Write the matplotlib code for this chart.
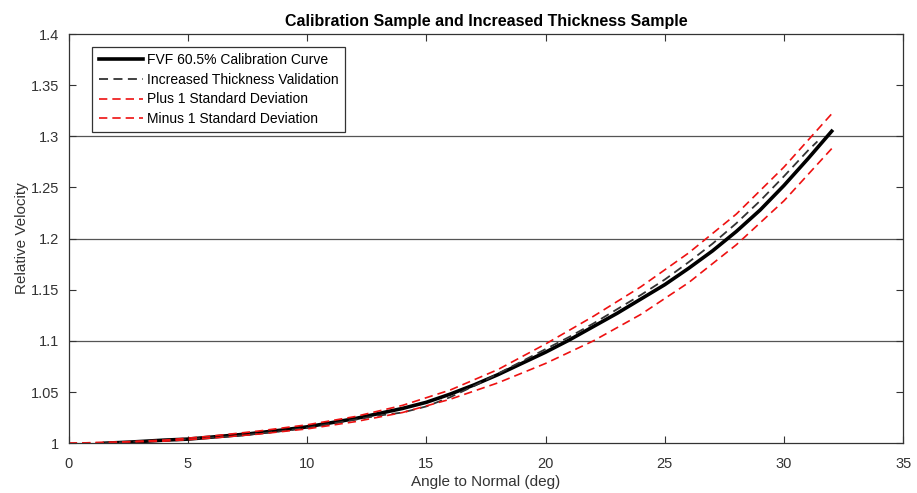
from matplotlib import pyplot as plt
import numpy as np

plt.rcParams['font.family'] = ['Liberation Sans', 'DejaVu Sans']

# calibration curve (solid black)
x_cal = [1.5, 2.5, 4, 5, 6, 7.5, 9, 10, 11, 12, 13, 14, 15, 16, 17, 18, 19, 20,
         21, 22, 23, 24, 25, 26, 27, 28, 29, 30, 31, 32]
y_cal = [1.000, 1.001, 1.003, 1.004, 1.006, 1.009, 1.013, 1.016, 1.020, 1.024,
         1.029, 1.034, 1.040, 1.048, 1.057, 1.067, 1.078, 1.089, 1.101, 1.114,
         1.127, 1.141, 1.155, 1.171, 1.188, 1.207, 1.228, 1.252, 1.278, 1.305]

# increased thickness validation (dashed dark gray)
x_thk = [1.5, 3, 5, 7, 9, 10, 11, 12, 13, 14, 15, 16, 17, 18, 19, 20, 21, 22,
         23, 24, 25, 26, 27, 28, 29, 30, 31, 31.4]
y_thk = [1.000, 1.002, 1.004, 1.007, 1.012, 1.015, 1.019, 1.023, 1.027, 1.030,
         1.036, 1.045, 1.056, 1.068, 1.080, 1.092, 1.104, 1.117, 1.131, 1.145,
         1.160, 1.177, 1.195, 1.215, 1.237, 1.261, 1.286, 1.295]

# +/- 1 standard deviation (dashed red)
x_sd = [0, 2, 4, 6, 8, 10, 12, 14, 16, 18, 20, 22, 24, 26, 28, 30, 32]
y_plus = [1.000, 1.001, 1.003, 1.007, 1.012, 1.018, 1.026, 1.037, 1.052, 1.072,
          1.097, 1.124, 1.153, 1.186, 1.224, 1.270, 1.322]
y_minus = [1.000, 1.001, 1.002, 1.005, 1.009, 1.014, 1.021, 1.030, 1.043, 1.059,
           1.078, 1.100, 1.126, 1.157, 1.194, 1.237, 1.288]

fig = plt.figure(figsize=(9.17, 4.93), dpi=100)
ax = fig.add_axes([0.075, 0.101, 0.910, 0.830])

for yg in [1.1, 1.2, 1.3]:
    ax.axhline(yg, color='#555555', lw=0.9, zorder=0)

ax.plot(x_cal, y_cal, '-', color='black', lw=2.6, label='FVF 60.5% Calibration Curve')
ax.plot(x_thk, y_thk, '--', color='#333333', lw=1.3, dashes=(5, 3), label='Increased Thickness Validation')
ax.plot(x_sd, y_plus, '--', color='#ee1111', lw=1.2, dashes=(5, 3), label='Plus 1 Standard Deviation')
ax.plot(x_sd, y_minus, '--', color='#ee1111', lw=1.2, dashes=(5, 3), label='Minus 1 Standard Deviation')

ax.set_xlim(0, 35)
ax.set_ylim(1, 1.4)
ax.set_xticks(np.arange(0, 36, 5))
ax.set_yticks([1, 1.05, 1.1, 1.15, 1.2, 1.25, 1.3, 1.35, 1.4])
ax.set_yticklabels(['1', '1.05', '1.1', '1.15', '1.2', '1.25', '1.3', '1.35', '1.4'])
ax.tick_params(direction='in', top=True, right=True, length=5, width=0.8,
               labelsize=10.5, colors='#333333', labelcolor='#333333')
ax.tick_params(axis='x', pad=10)
ax.tick_params(axis='y', pad=7)
for s in ax.spines.values():
    s.set_color('#333333')
    s.set_linewidth(0.9)

ax.set_xlabel('Angle to Normal (deg)', fontsize=11, color='#333333', labelpad=3)
ax.set_ylabel('Relative Velocity', fontsize=11, color='#333333', labelpad=1)
ax.set_title('Calibration Sample and Increased Thickness Sample', fontsize=11.5,
             fontweight='bold', pad=6)

leg = ax.legend(loc='upper left', bbox_to_anchor=(0.02, 0.985), fontsize=10,
                fancybox=False, framealpha=1, edgecolor='#333333',
                handlelength=3.2, handletextpad=0.3, borderpad=0.45, labelspacing=0.4)
leg.get_frame().set_linewidth(0.9)

plt.savefig('out.png', dpi=100)
